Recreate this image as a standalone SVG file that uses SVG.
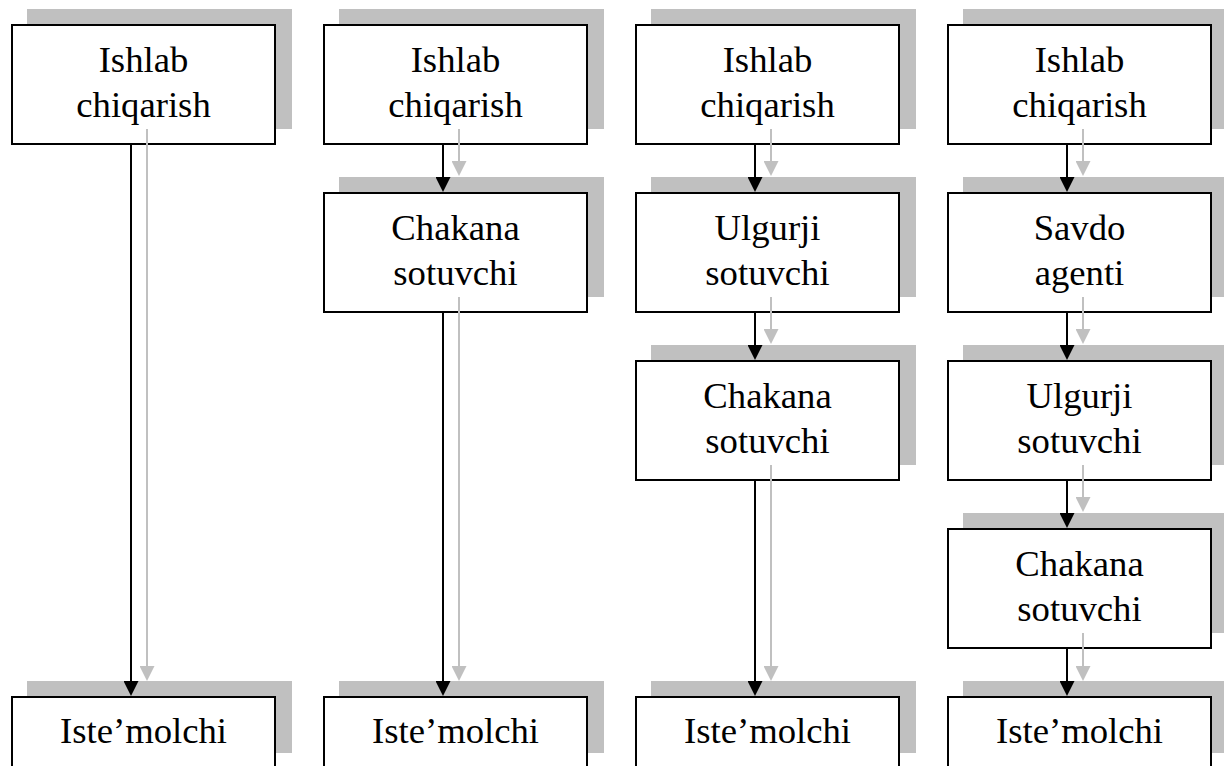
<svg xmlns="http://www.w3.org/2000/svg" width="1224" height="766" viewBox="0 0 1224 766">
  <style>
    .shadow { fill: #c0c0c0; }
    .box { fill: #ffffff; stroke: #000000; stroke-width: 2; }
    .label { font-family: "Liberation Serif", "Times New Roman", serif; font-size: 36.7px; fill: #000000; text-anchor: middle; }
    .flow { stroke: #000000; stroke-width: 2; fill: none; marker-end: url(#headBlack); }
    .flow-shadow { stroke: #c0c0c0; stroke-width: 2; fill: none; marker-end: url(#headGray); }
  </style>
  <defs>
    <marker id="headBlack" viewBox="0 0 15 15" refX="5" refY="7.5" markerWidth="15" markerHeight="15" markerUnits="userSpaceOnUse" orient="auto">
      <path d="M0,0 L15,7.5 L0,15 z" fill="#000000"/>
    </marker>
    <marker id="headGray" viewBox="0 0 15 15" refX="5" refY="7.5" markerWidth="15" markerHeight="15" markerUnits="userSpaceOnUse" orient="auto">
      <path d="M0,0 L15,7.5 L0,15 z" fill="#c0c0c0"/>
    </marker>
  </defs>
  <rect width="1224" height="766" fill="#ffffff"/>

  <!-- Column 1 -->
  <g id="c1-producer">
    <rect class="shadow" x="27" y="9" width="265" height="120"/>
    <rect class="box" x="12" y="25" width="263" height="119"/>
    <text class="label" x="143.5" y="71.8">Ishlab</text>
    <text class="label" x="143.5" y="116.8">chiqarish</text>
  </g>
  <g id="c1-consumer">
    <rect class="shadow" x="27" y="681" width="265" height="72"/>
    <rect class="box" x="12" y="697" width="263" height="119"/>
    <text class="label" x="143.5" y="742.5">Iste’molchi</text>
  </g>

  <!-- Column 2 -->
  <g id="c2-producer">
    <rect class="shadow" x="339" y="9" width="265" height="120"/>
    <rect class="box" x="324" y="25" width="263" height="119"/>
    <text class="label" x="455.5" y="71.8">Ishlab</text>
    <text class="label" x="455.5" y="116.8">chiqarish</text>
  </g>
  <g id="c2-retailer">
    <rect class="shadow" x="339" y="177" width="265" height="120"/>
    <rect class="box" x="324" y="193" width="263" height="119"/>
    <text class="label" x="455.5" y="239.8">Chakana</text>
    <text class="label" x="455.5" y="284.8">sotuvchi</text>
  </g>
  <g id="c2-consumer">
    <rect class="shadow" x="339" y="681" width="265" height="72"/>
    <rect class="box" x="324" y="697" width="263" height="119"/>
    <text class="label" x="455.5" y="742.5">Iste’molchi</text>
  </g>

  <!-- Column 3 -->
  <g id="c3-producer">
    <rect class="shadow" x="651" y="9" width="265" height="120"/>
    <rect class="box" x="636" y="25" width="263" height="119"/>
    <text class="label" x="767.5" y="71.8">Ishlab</text>
    <text class="label" x="767.5" y="116.8">chiqarish</text>
  </g>
  <g id="c3-wholesaler">
    <rect class="shadow" x="651" y="177" width="265" height="120"/>
    <rect class="box" x="636" y="193" width="263" height="119"/>
    <text class="label" x="767.5" y="239.8">Ulgurji</text>
    <text class="label" x="767.5" y="284.8">sotuvchi</text>
  </g>
  <g id="c3-retailer">
    <rect class="shadow" x="651" y="345" width="265" height="120"/>
    <rect class="box" x="636" y="361" width="263" height="119"/>
    <text class="label" x="767.5" y="407.8">Chakana</text>
    <text class="label" x="767.5" y="452.8">sotuvchi</text>
  </g>
  <g id="c3-consumer">
    <rect class="shadow" x="651" y="681" width="265" height="72"/>
    <rect class="box" x="636" y="697" width="263" height="119"/>
    <text class="label" x="767.5" y="742.5">Iste’molchi</text>
  </g>

  <!-- Column 4 -->
  <g id="c4-producer">
    <rect class="shadow" x="963" y="9" width="265" height="120"/>
    <rect class="box" x="948" y="25" width="263" height="119"/>
    <text class="label" x="1079.5" y="71.8">Ishlab</text>
    <text class="label" x="1079.5" y="116.8">chiqarish</text>
  </g>
  <g id="c4-agent">
    <rect class="shadow" x="963" y="177" width="265" height="120"/>
    <rect class="box" x="948" y="193" width="263" height="119"/>
    <text class="label" x="1079.5" y="239.8">Savdo</text>
    <text class="label" x="1079.5" y="284.8">agenti</text>
  </g>
  <g id="c4-wholesaler">
    <rect class="shadow" x="963" y="345" width="265" height="120"/>
    <rect class="box" x="948" y="361" width="263" height="119"/>
    <text class="label" x="1079.5" y="407.8">Ulgurji</text>
    <text class="label" x="1079.5" y="452.8">sotuvchi</text>
  </g>
  <g id="c4-retailer">
    <rect class="shadow" x="963" y="513" width="265" height="120"/>
    <rect class="box" x="948" y="529" width="263" height="119"/>
    <text class="label" x="1079.5" y="575.8">Chakana</text>
    <text class="label" x="1079.5" y="620.8">sotuvchi</text>
  </g>
  <g id="c4-consumer">
    <rect class="shadow" x="963" y="681" width="265" height="72"/>
    <rect class="box" x="948" y="697" width="263" height="119"/>
    <text class="label" x="1079.5" y="742.5">Iste’molchi</text>
  </g>

  <!-- Connectors: black flow arrows with their grey shadow twins -->
  <g id="connectors">
    <line class="flow-shadow" x1="147" y1="129" x2="147" y2="671"/>
    <line class="flow" x1="131" y1="145" x2="131" y2="686"/>

    <line class="flow-shadow" x1="459" y1="129" x2="459" y2="166"/>
    <line class="flow" x1="443" y1="145" x2="443" y2="182"/>
    <line class="flow-shadow" x1="459" y1="297" x2="459" y2="671"/>
    <line class="flow" x1="443" y1="313" x2="443" y2="686"/>

    <line class="flow-shadow" x1="771" y1="129" x2="771" y2="166"/>
    <line class="flow" x1="755" y1="145" x2="755" y2="182"/>
    <line class="flow-shadow" x1="771" y1="297" x2="771" y2="334"/>
    <line class="flow" x1="755" y1="313" x2="755" y2="350"/>
    <line class="flow-shadow" x1="771" y1="465" x2="771" y2="671"/>
    <line class="flow" x1="755" y1="481" x2="755" y2="686"/>

    <line class="flow-shadow" x1="1083" y1="129" x2="1083" y2="166"/>
    <line class="flow" x1="1067" y1="145" x2="1067" y2="182"/>
    <line class="flow-shadow" x1="1083" y1="297" x2="1083" y2="334"/>
    <line class="flow" x1="1067" y1="313" x2="1067" y2="350"/>
    <line class="flow-shadow" x1="1083" y1="465" x2="1083" y2="502"/>
    <line class="flow" x1="1067" y1="481" x2="1067" y2="518"/>
    <line class="flow-shadow" x1="1083" y1="633" x2="1083" y2="671"/>
    <line class="flow" x1="1067" y1="649" x2="1067" y2="686"/>
  </g>
</svg>
